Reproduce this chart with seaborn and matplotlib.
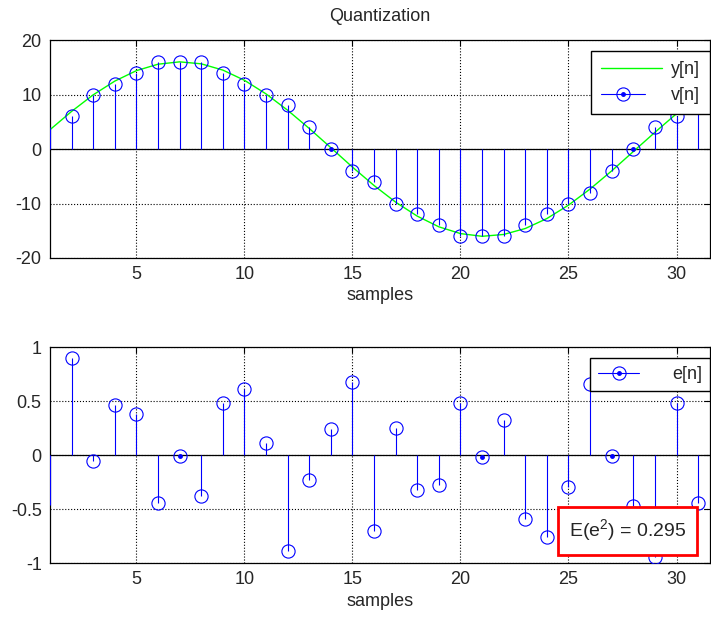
import numpy as np
import pandas as pd
import matplotlib
matplotlib.use("Agg")
import matplotlib.pyplot as plt
import seaborn as sns
from matplotlib.lines import Line2D
from matplotlib.legend_handler import HandlerLine2D

# values
samples = list(range(1, 32))
y_n = [3.54, 6.90, 9.94, 12.46, 14.38, 15.56, 15.99, 15.63, 14.48, 12.61,
       10.11, 7.11, 3.77, 0.24, -3.32, -6.70, -9.75, -12.32, -14.28, -15.52,
       -16.02, -15.68, -14.59, -12.76, -10.30, -7.34, -4.01, -0.47, 3.06, 6.48,
       9.56]
v_n = [4, 6, 10, 12, 14, 16, 16, 16, 14, 12,
       10, 8, 4, 0, -4, -6, -10, -12, -14, -16,
       -16, -16, -14, -12, -10, -8, -4, 0, 4, 6,
       10]
e_n = [-0.46, 0.90, -0.06, 0.46, 0.38, -0.44, -0.01, -0.375, 0.48, 0.61,
       0.11, -0.89, -0.23, 0.24, 0.68, -0.70, 0.25, -0.32, -0.28, 0.48,
       -0.015, 0.32, -0.59, -0.76, -0.30, 0.66, -0.01, -0.47, -0.94, 0.48,
       -0.44]
mse_label = "E(e$^2$) = 0.295"

df = pd.DataFrame({"n": samples, "y": y_n, "v": v_n, "e": e_n})

BLUE = "#0000ff"
GREEN = "#00ff00"
FS = 13

sns.set_style("whitegrid", {"grid.color": "k", "grid.linestyle": ":",
                            "axes.edgecolor": "k", "xtick.direction": "in",
                            "ytick.direction": "in"})
plt.rcParams["font.family"] = ["Liberation Sans", "DejaVu Sans"]
plt.rcParams["mathtext.fontset"] = "custom"
plt.rcParams["mathtext.rm"] = "Liberation Sans"
plt.rcParams["axes.unicode_minus"] = False
plt.rcParams["font.size"] = FS


class StemHandler(HandlerLine2D):
    # matlab style legend entry: line running into the marker
    def get_xdata(self, legend, xdescent, ydescent, width, height, fontsize):
        xm = -xdescent + 0.72 * width
        return np.array([-xdescent, xm]), np.array([xm])


def stem(ax, col):
    inside = df[df.n > 1]
    ax.vlines(df.n, 0, df[col], color=BLUE, lw=0.8, zorder=3)
    ax.plot(inside.n, inside[col], "o", ms=9.5, mfc="none", mec=BLUE,
            mew=0.8, zorder=4)
    rng = ax.get_ylim()[1] - ax.get_ylim()[0]
    flat = inside[inside[col].abs() < 0.02 * rng]
    ax.plot(flat.n, flat[col], "o", ms=2.5, color=BLUE, zorder=5)
    ax.axhline(0, color="k", lw=0.9, zorder=2)


def style(ax, yticks, ylabels):
    ax.set_xlim(1, 31.55)
    ax.set_xticks([5, 10, 15, 20, 25, 30])
    ax.set_yticks(yticks)
    ax.set_yticklabels(ylabels)
    ax.set_xlabel("samples", fontsize=FS, labelpad=3)
    ax.grid(True, color="k", ls=":", lw=0.8)
    ax.tick_params(axis="both", which="both", direction="in", length=4,
                   width=0.8, top=True, right=True, labelsize=FS, pad=6,
                   color="k")
    for s in ax.spines.values():
        s.set_color("k")
        s.set_linewidth(0.9)


def legend_handle():
    line = Line2D([], [], color=BLUE, lw=0.8)
    ring = Line2D([], [], color=BLUE, ls="none", marker="o", ms=9.5,
                  mfc="none", mew=0.8)
    dot = Line2D([], [], color=BLUE, ls="none", marker="o", ms=2.5)
    return (line, ring, dot), {line: StemHandler(), ring: StemHandler(),
                               dot: StemHandler()}


fig = plt.figure(figsize=(7.11, 6.18), dpi=100)
ax1 = fig.add_axes([50 / 711, 1 - 258 / 618, 660 / 711, 218 / 618])
ax2 = fig.add_axes([50 / 711, 1 - 563 / 618, 660 / 711, 216 / 618])

# top panel: signal and quantized samples
ax1.set_ylim(-20, 20)
sns.lineplot(data=df, x="n", y="y", ax=ax1, color=GREEN, lw=1, zorder=3,
             legend=False)
stem(ax1, "v")
style(ax1, [-20, -10, 0, 10, 20], ["-20", "-10", "0", "10", "20"])
ax1.set_ylabel("")
ax1.set_title("Quantization", fontsize=FS, pad=14)

h_y = Line2D([], [], color=GREEN, lw=1)
h_v, hmap = legend_handle()
leg = ax1.legend([h_y, h_v], ["y[n]", "v[n]"], handler_map=hmap,
                 loc="upper right", bbox_to_anchor=(1.0, 0.95),
                 borderaxespad=0, fancybox=False, framealpha=1,
                 edgecolor="k", fontsize=FS, handlelength=3.4,
                 handletextpad=0.5, borderpad=0.55, labelspacing=0.5)
leg.get_frame().set_linewidth(1.0)

# bottom panel: quantization error
ax2.set_ylim(-1, 1)
stem(ax2, "e")
style(ax2, [-1, -0.5, 0, 0.5, 1], ["-1", "-0.5", "0", "0.5", "1"])
ax2.set_ylabel("")

h_e, hmap = legend_handle()
leg = ax2.legend([h_e], ["e[n]"], handler_map=hmap, loc="upper right",
                 bbox_to_anchor=(1.0, 0.949), borderaxespad=0,
                 fancybox=False, framealpha=1, edgecolor="k", fontsize=FS,
                 handlelength=3.2, handletextpad=0.9, borderpad=0.45)
leg.get_frame().set_linewidth(1.0)

ax2.text(0.875, 0.148, mse_label, transform=ax2.transAxes, fontsize=14,
         ha="center", va="center", zorder=10,
         bbox=dict(boxstyle="square,pad=0.55", fc="white", ec="red", lw=2))

fig.savefig("out.png", dpi=100)
